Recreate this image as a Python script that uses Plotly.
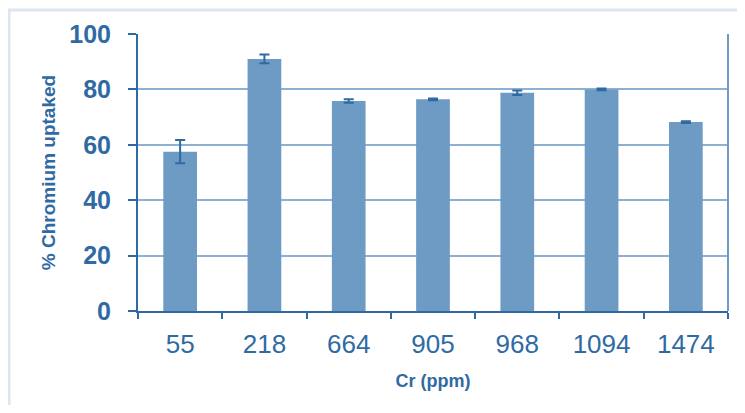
import plotly.graph_objects as go

categories = ["55", "218", "664", "905", "968", "1094", "1474"]
uptake = [57.5, 91.0, 75.8, 76.4, 78.8, 80.0, 68.2]
errors = [4.2, 1.6, 0.6, 0.3, 0.8, 0.3, 0.3]

axis_color = "#2f6aa3"
bar_color = "#6e9bc3"
grid_color = "#8db0d4"

fig = go.Figure()
fig.add_trace(go.Bar(
    x=categories, y=uptake,
    marker=dict(color=bar_color, line=dict(width=0)),
    width=0.4,
    error_y=dict(type="data", array=errors, visible=True,
                 color=axis_color, thickness=2, width=5),
))

fig.update_layout(
    width=729, height=397,
    margin=dict(l=130, r=9, t=26, b=94),
    paper_bgcolor="white", plot_bgcolor="white",
    showlegend=False,
    font=dict(family="Liberation Sans, Arial, sans-serif", color=axis_color),
    xaxis=dict(
        type="category",
        showline=True, linecolor=axis_color, linewidth=2,
        mirror=False,
        ticks="outside", tickson="boundaries", ticklen=6, tickcolor=axis_color, tickwidth=2,
        tickfont=dict(size=26, color=axis_color),
        ticklabelstandoff=9,
        title=dict(text="<b>Cr (ppm)</b>", font=dict(size=18, color=axis_color), standoff=16),
        showgrid=False,
    ),
    yaxis=dict(
        range=[0, 100], dtick=20,
        showline=True, linecolor=axis_color, linewidth=2,
        ticks="outside", ticklen=8, tickcolor=axis_color, tickwidth=2,
        tickfont=dict(size=25, color=axis_color, weight="bold"),
        ticklabelstandoff=12,
        showgrid=True, gridcolor=grid_color, gridwidth=2,
        zeroline=False,
        title=dict(text="<b>% Chromium uptaked</b>", font=dict(size=19, color=axis_color), standoff=9),
    ),
    shapes=[
        dict(type="line", xref="paper", yref="paper", x0=1.0, x1=1.0, y0=0, y1=1,
             line=dict(color=bar_color, width=2)),
        dict(type="rect", xref="paper", yref="paper", x0=-0.2186, x1=1.2, y0=-0.6, y1=1.0866,
             line=dict(color="#dbe6f1", width=3), layer="below"),
    ],
)

fig.write_html("out.html")
